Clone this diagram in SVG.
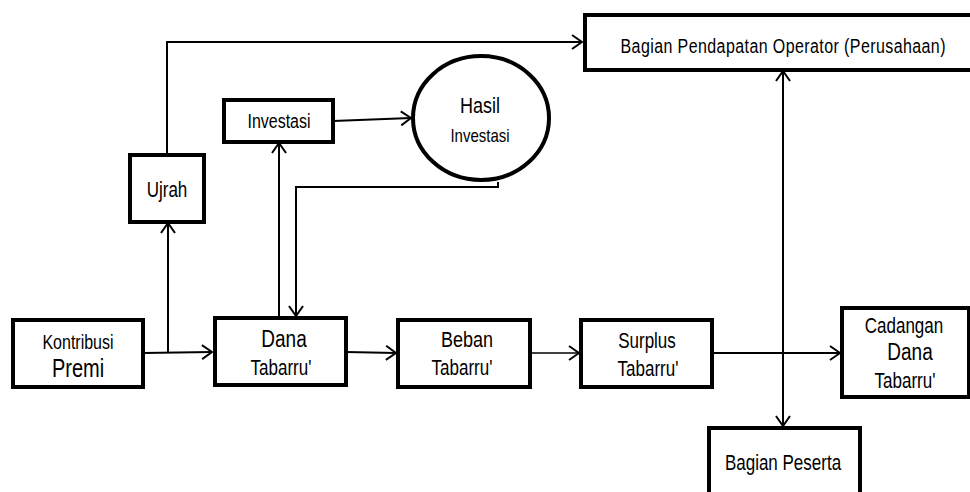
<svg xmlns="http://www.w3.org/2000/svg" width="970" height="492" viewBox="0 0 970 492">
<defs>
<style>
.box{fill:#fff;stroke:#000;stroke-width:4}
.ln{fill:none;stroke:#000;stroke-width:2}
.t{font-family:"Liberation Sans",Arial,sans-serif;font-size:16px;fill:#000;text-anchor:middle}
</style>
<marker id="ah" viewBox="0 0 12 16" refX="11" refY="8" markerWidth="12" markerHeight="16" markerUnits="userSpaceOnUse" orient="auto-start-reverse">
<polyline points="1,1 11,8 1,15" fill="none" stroke="#000" stroke-width="2"/>
</marker>
</defs>
<rect width="970" height="492" fill="#fff"/>
<g id="connectors">
<polyline class="ln" points="167,153 167,42 582,42" marker-end="url(#ah)"/>
<line class="ln" x1="143" y1="353" x2="212" y2="352" marker-end="url(#ah)"/>
<line class="ln" x1="168" y1="353" x2="168" y2="223" marker-end="url(#ah)"/>
<line class="ln" x1="279" y1="317" x2="279" y2="143" marker-end="url(#ah)"/>
<polyline class="ln" points="498,182 498,187 296,187 296,316" marker-end="url(#ah)"/>
<line class="ln" x1="333" y1="121" x2="411" y2="118" marker-end="url(#ah)"/>
<line class="ln" x1="346" y1="352" x2="396" y2="353" marker-end="url(#ah)"/>
<line class="ln" x1="531" y1="353" x2="579" y2="353" style="stroke-width:1.5" marker-end="url(#ah)"/>
<line class="ln" x1="712" y1="353" x2="840" y2="353" marker-end="url(#ah)"/>
<line class="ln" x1="783" y1="71" x2="783" y2="426" marker-start="url(#ah)" marker-end="url(#ah)"/>
</g>
<g id="bagian-pendapatan">
<rect class="box" x="585" y="15" width="390" height="55"/>
<text class="t" transform="translate(783,53) scale(1,1.25)" textLength="325">Bagian Pendapatan Operator (Perusahaan)</text>
</g>
<g id="hasil-investasi">
<ellipse class="box" cx="481" cy="118" rx="68" ry="62"/>
<text class="t" transform="translate(480,113) scale(1,1.25)" style="font-size:18px">Hasil</text>
<text class="t" transform="translate(480,142) scale(1,1.25)" style="font-size:15px">Investasi</text>
</g>
<g id="investasi">
<rect class="box" x="224" y="100" width="109" height="42"/>
<text class="t" transform="translate(279,128) scale(1,1.25)">Investasi</text>
</g>
<g id="ujrah">
<rect class="box" x="130" y="155" width="74" height="67"/>
<text class="t" transform="translate(167,197) scale(1,1.25)" style="font-size:17px">Ujrah</text>
</g>
<g id="kontribusi-premi">
<rect class="box" x="13" y="320" width="130" height="67"/>
<text class="t" transform="translate(78,349) scale(1,1.25)">Kontribusi</text>
<text class="t" transform="translate(78,377) scale(1,1.25)" style="font-size:20px">Premi</text>
</g>
<g id="dana-tabarru">
<rect class="box" x="215" y="318" width="131" height="67"/>
<text class="t" transform="translate(284,347) scale(1,1.25)" style="font-size:19px">Dana</text>
<text class="t" transform="translate(281,375) scale(1,1.25)" style="font-size:17px">Tabarru'</text>
</g>
<g id="beban-tabarru">
<rect class="box" x="398" y="320" width="132" height="67"/>
<text class="t" transform="translate(467,347) scale(1,1.25)" style="font-size:18px">Beban</text>
<text class="t" transform="translate(462,375) scale(1,1.25)" style="font-size:17px">Tabarru'</text>
</g>
<g id="surplus-tabarru">
<rect class="box" x="581" y="320" width="131" height="67"/>
<text class="t" transform="translate(647,348) scale(1,1.25)" style="font-size:17px">Surplus</text>
<text class="t" transform="translate(648,376) scale(1,1.25)" style="font-size:17px">Tabarru'</text>
</g>
<g id="cadangan-dana-tabarru">
<rect class="box" x="842" y="308" width="127" height="89"/>
<text class="t" transform="translate(904,333) scale(1,1.25)" style="font-size:17px">Cadangan</text>
<text class="t" transform="translate(910,360) scale(1,1.25)" style="font-size:19px">Dana</text>
<text class="t" transform="translate(905,388) scale(1,1.25)" style="font-size:17px">Tabarru'</text>
</g>
<g id="bagian-peserta">
<rect class="box" x="709" y="428" width="151" height="70"/>
<text class="t" transform="translate(783,470) scale(1,1.25)" style="font-size:17px">Bagian Peserta</text>
</g>
</svg>
